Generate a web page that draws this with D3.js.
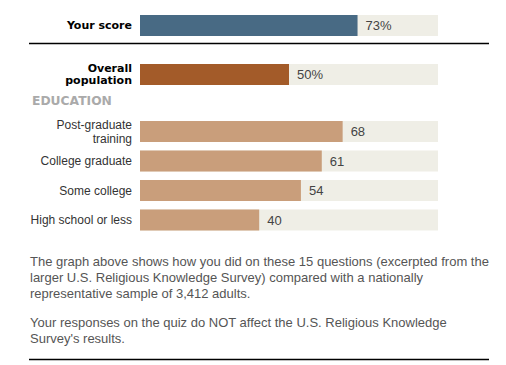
<!DOCTYPE html>
<html>
<head>
<meta charset="utf-8">
<script src="https://cdn.jsdelivr.net/npm/d3@7"></script>
<style>
  body { margin: 0; background: #fff; }
</style>
</head>
<body>
<div id="chart"></div>
<script>
// data
const scoreLabel = ['Your score'];
const scoreValue = [73];
const overallLabel = ['Overall', 'population'];
const overallValue = [50];
const eduLabels = ['Post-graduate training', 'College graduate', 'Some college', 'High school or less'];
const eduValues = [68, 61, 54, 40];
const notes = [
    ['The graph above shows how you did on these 15 questions (excerpted from the',
     'larger U.S. Religious Knowledge Survey) compared with a nationally',
     'representative sample of 3,412 adults.'],
    ['Your responses on the quiz do NOT affect the U.S. Religious Knowledge',
     'Survey\'s results.']
];

const width = 506;
const height = 365;

const svg = d3.select('#chart')
    .append('svg')
    .attr('width', width)
    .attr('height', height);

const x = d3.scaleLinear()
    .domain([0, 100])
    .range([140, 438]);

const barH = 21;
const labelX = 132;

// draw one bar row: background track, fill, value text
const drawBar = (y, value, fill, suffix) => {
    svg.append('rect')
        .attr('x', x(0))
        .attr('y', y)
        .attr('width', x(100) - x(0))
        .attr('height', barH)
        .attr('fill', '#efeee6');
    svg.append('rect')
        .attr('x', x(0))
        .attr('y', y)
        .attr('width', x(value) - x(0))
        .attr('height', barH)
        .attr('fill', fill);
    svg.append('text')
        .attr('x', x(value) + 8)
        .attr('y', y + barH / 2)
        .attr('dy', '0.36em')
        .style('font-family', '"Liberation Sans", Arial, sans-serif')
        .style('font-size', '13px')
        .style('fill', '#444')
        .text(value + suffix);
}

// Your score
drawBar(15, scoreValue[0], '#486a84', '%');
svg.append('text')
    .attr('x', labelX)
    .attr('y', 15 + barH / 2)
    .attr('dy', '0.36em')
    .attr('text-anchor', 'end')
    .style('font-family', '"DejaVu Sans", Verdana, sans-serif')
    .style('font-weight', 'bold')
    .style('font-size', '11px')
    .style('fill', '#000')
    .text(scoreLabel[0]);

// rule under score
svg.append('line')
    .attr('x1', 29).attr('x2', 489)
    .attr('y1', 43.5).attr('y2', 43.5)
    .attr('stroke', '#000')
    .attr('stroke-width', 1.3);

// Overall population
drawBar(64, overallValue[0], '#a35b29', '%');
svg.append('text')
    .attr('x', labelX)
    .attr('y', 64 + barH / 2)
    .attr('text-anchor', 'end')
    .style('font-family', '"DejaVu Sans", Verdana, sans-serif')
    .style('font-weight', 'bold')
    .style('font-size', '11px')
    .style('fill', '#000')
    .selectAll('tspan')
    .data(overallLabel)
    .enter()
    .append('tspan')
    .attr('x', labelX)
    .attr('dy', (d, i) => i === 0 ? '-0.25em' : '1.1em')
    .text(d => d);

svg.append('text')
    .attr('x', 32)
    .attr('y', 101)
    .attr('dy', '0.36em')
    .style('font-family', '"DejaVu Sans", Verdana, sans-serif')
    .style('font-weight', 'bold')
    .style('font-size', '12.3px')
    .style('fill', '#aaa')
    .text('EDUCATION');

// education bars
const y = d3.scaleBand()
    .domain(eduLabels)
    .range([121, 230.5])
    .paddingInner(0.288)
    .paddingOuter(0);

eduLabels.forEach((d, i) => {
    drawBar(y(d), eduValues[i], '#c99e7b', '');
});

svg.append('g')
    .selectAll('text')
    .data(eduLabels)
    .enter()
    .append('text')
    .attr('text-anchor', 'end')
    .attr('x', labelX)
    .attr('y', d => y(d) + y.bandwidth() / 2)
    .style('font-family', '"Liberation Sans", Arial, sans-serif')
    .style('font-size', '12px')
    .style('fill', '#333')
    .each(function (d) {
        const words = d === 'Post-graduate training' ? ['Post-graduate', 'training'] : [d];
        d3.select(this).selectAll('tspan')
            .data(words)
            .enter()
            .append('tspan')
            .attr('x', labelX)
            .attr('dy', (w, j) => words.length === 1 ? '0.36em' : (j === 0 ? '-0.22em' : '1.14em'))
            .text(w => w);
    });

// notes
const noteStarts = [266, 327];
notes.forEach((para, p) => {
    svg.append('g')
        .selectAll('text')
        .data(para)
        .enter()
        .append('text')
        .attr('x', 30)
        .attr('y', (d, i) => noteStarts[p] + i * 16)
        .style('font-family', '"Liberation Sans", Arial, sans-serif')
        .style('font-size', '13px')
        .style('fill', '#555')
        .text(d => d);
});

// bottom rule
svg.append('line')
    .attr('x1', 29).attr('x2', 489)
    .attr('y1', 359.5).attr('y2', 359.5)
    .attr('stroke', '#000')
    .attr('stroke-width', 1.3);
</script>
</body>
</html>
